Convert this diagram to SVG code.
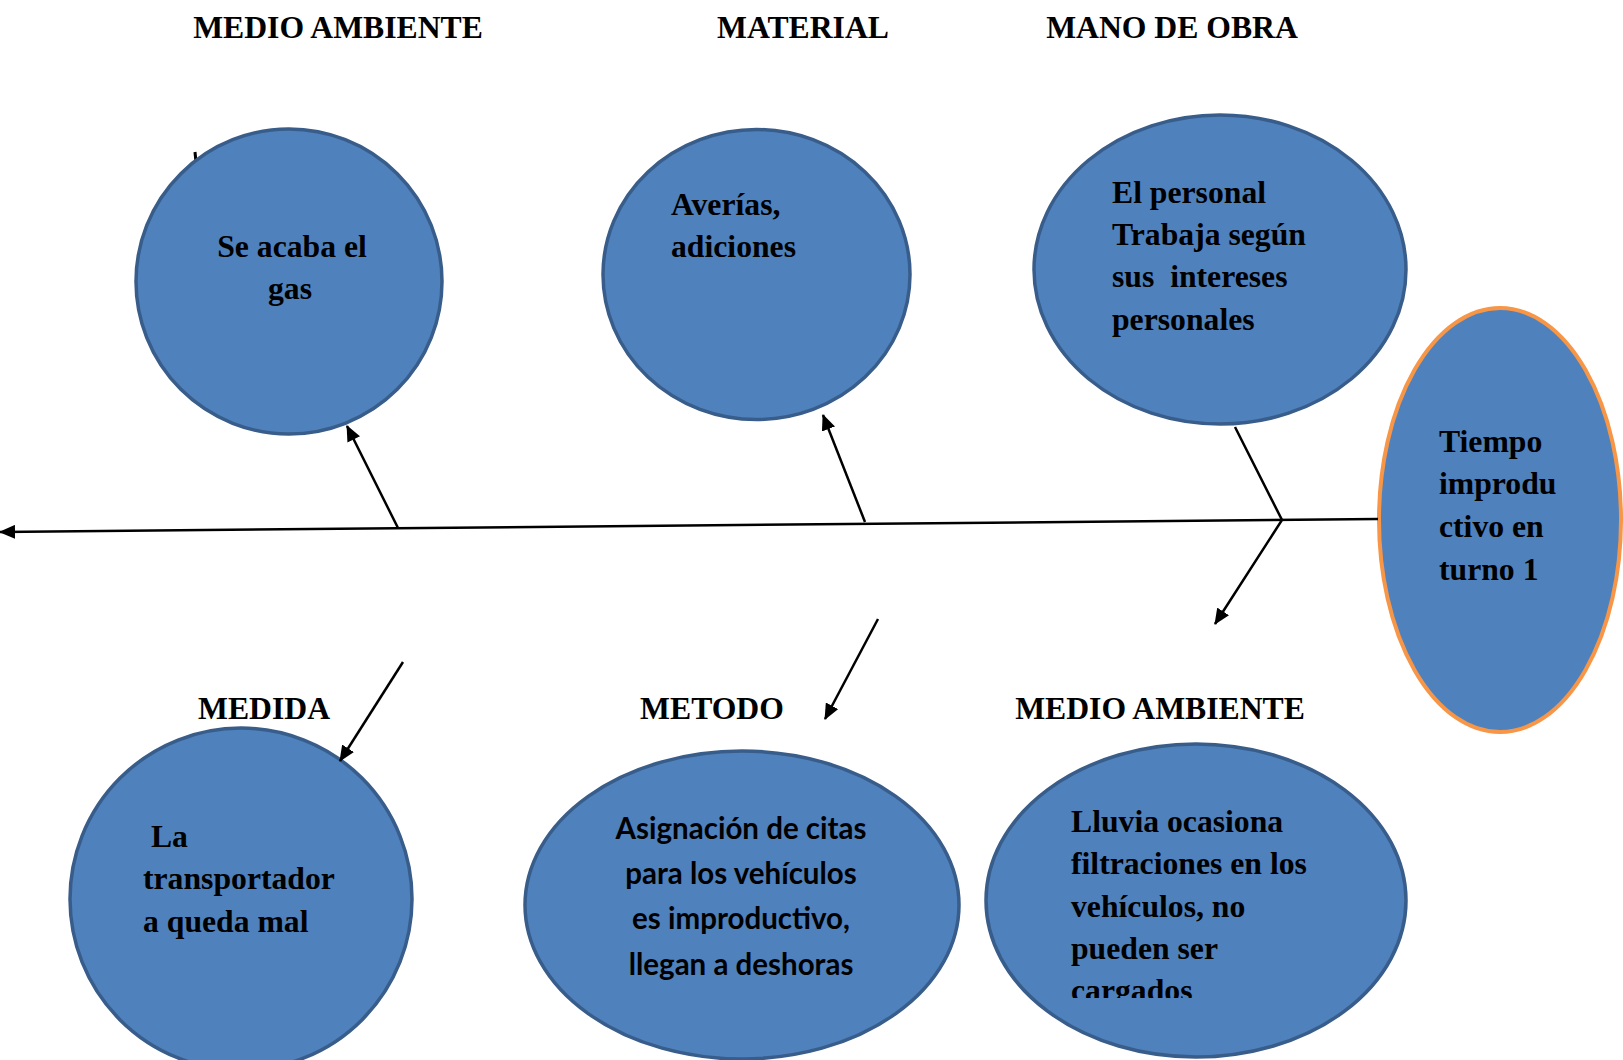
<svg xmlns="http://www.w3.org/2000/svg" width="1623" height="1060" viewBox="0 0 1623 1060">
<style>
.node{fill:#4F81BD;stroke:#385D8A;stroke-width:3.5}
.effect{fill:#4F81BD;stroke:#F79646;stroke-width:4}
.t{font-family:"Liberation Serif","Times New Roman",serif;font-weight:bold;font-size:31.7px;fill:#000}
.c{font-family:Lato,"Liberation Sans",sans-serif;font-weight:bold;font-size:29.5px;fill:#000}
.mid{text-anchor:middle}
.ln{stroke:#000;stroke-width:2.5;fill:none}
</style>
<defs>
<marker id="ah" markerUnits="userSpaceOnUse" markerWidth="16" markerHeight="14" refX="15" refY="7" orient="auto">
<path d="M0,0 L16,7 L0,14 z" fill="#000"/>
</marker>
<clipPath id="clipL"><rect x="950" y="700" width="500" height="298"/></clipPath>
</defs>
<rect width="1623" height="1060" fill="#fff"/>
<g id="labels">
<text class="t mid" x="338" y="38">MEDIO AMBIENTE</text>
<text class="t mid" x="803" y="38">MATERIAL</text>
<text class="t mid" x="1172" y="38">MANO DE OBRA</text>
<text class="t mid" x="264" y="719">MEDIDA</text>
<text class="t mid" x="712" y="719">METODO</text>
<text class="t mid" x="1160" y="719">MEDIO AMBIENTE</text>
</g>
<line x1="195" y1="152" x2="196" y2="162" stroke="#000" stroke-width="3"/>
<g id="n1">
<ellipse class="node" cx="289" cy="281.5" rx="153" ry="152.5"/>
<text class="t mid" x="292" y="257">Se acaba el</text>
<text class="t mid" x="290" y="299">gas</text>
</g>
<g id="n2">
<ellipse class="node" cx="756.5" cy="274.5" rx="153.5" ry="145"/>
<text class="t" x="671" y="215">Averías,</text>
<text class="t" x="671" y="257">adiciones</text>
</g>
<g id="n3">
<ellipse class="node" cx="1220" cy="269.5" rx="186" ry="154.5"/>
<text class="t" x="1112" y="203">El personal</text>
<text class="t" x="1112" y="245">Trabaja según</text>
<text class="t" x="1112" y="287" xml:space="preserve">sus  intereses</text>
<text class="t" x="1112" y="330">personales</text>
</g>
<g id="n4">
<ellipse class="effect" cx="1500" cy="520" rx="121" ry="212"/>
<text class="t" x="1439" y="452">Tiempo</text>
<text class="t" x="1439" y="494">improdu</text>
<text class="t" x="1439" y="537">ctivo en</text>
<text class="t" x="1439" y="580">turno 1</text>
</g>
<g id="n5">
<ellipse class="node" cx="241" cy="899" rx="171" ry="171"/>
<text class="t" x="143" y="847" xml:space="preserve"> La</text>
<text class="t" x="143" y="889">transportador</text>
<text class="t" x="143" y="932">a queda mal</text>
</g>
<g id="n6">
<ellipse class="node" cx="742" cy="905" rx="217" ry="154"/>
<text class="c mid" x="741" y="839">Asignación de citas</text>
<text class="c mid" x="741" y="884">para los vehículos</text>
<text class="c mid" x="741" y="929">es improductivo,</text>
<text class="c mid" x="741" y="975">llegan a deshoras</text>
</g>
<g id="n7">
<ellipse class="node" cx="1196" cy="900.5" rx="210" ry="156.5"/>
<g clip-path="url(#clipL)">
<text class="t" x="1071" y="832">Lluvia ocasiona</text>
<text class="t" x="1071" y="874">filtraciones en los</text>
<text class="t" x="1071" y="917">vehículos, no</text>
<text class="t" x="1071" y="959">pueden ser</text>
<text class="t" x="1071" y="1001">cargados</text>
</g>
</g>
<g id="connectors">
<line class="ln" x1="1378" y1="519" x2="0" y2="532" marker-end="url(#ah)"/>
<line class="ln" x1="398" y1="528" x2="347" y2="426" marker-end="url(#ah)"/>
<line class="ln" x1="865" y1="522" x2="823" y2="415" marker-end="url(#ah)"/>
<polyline class="ln" points="1235,427 1282,520 1215,624" marker-end="url(#ah)"/>
<line class="ln" x1="403" y1="662" x2="340" y2="761" marker-end="url(#ah)"/>
<line class="ln" x1="878" y1="619" x2="825" y2="719" marker-end="url(#ah)"/>
</g>
</svg>
